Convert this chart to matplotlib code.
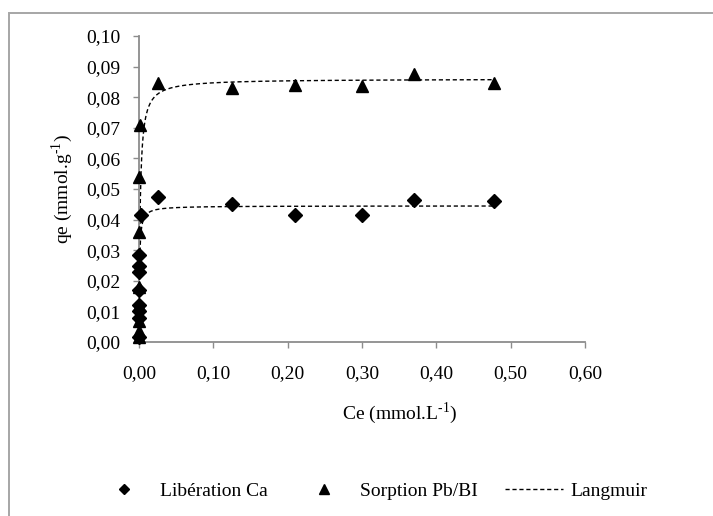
import numpy as np
import matplotlib
matplotlib.use("Agg")
from matplotlib import pyplot as plt
from matplotlib.patches import Rectangle

plt.rcParams['font.family'] = ['Liberation Serif', 'DejaVu Serif']
plt.rcParams['mathtext.fontset'] = 'custom'
plt.rcParams['mathtext.rm'] = 'Liberation Serif'

# Libération Ca (diamonds)
ca_ce = [0.0, 0.0, 0.0, 0.0, 0.0, 0.0, 0.0, 0.0, 0.003,
         0.025, 0.125, 0.21, 0.30, 0.37, 0.478]
ca_qe = [0.0015, 0.008, 0.010, 0.012, 0.017, 0.023, 0.025, 0.0285, 0.0415,
         0.0475, 0.045, 0.0415, 0.0415, 0.0465, 0.046]

# Sorption Pb/BI (triangles)
pb_ce = [0.0, 0.0, 0.0, 0.0, 0.0, 0.0, 0.0, 0.002,
         0.025, 0.125, 0.21, 0.30, 0.37, 0.478]
pb_qe = [0.0015, 0.0035, 0.007, 0.012, 0.018, 0.036, 0.054, 0.071,
         0.0845, 0.083, 0.084, 0.0835, 0.0875, 0.0845]

# Langmuir fit parameters (qmax, K)
ca_qmax, ca_k = 0.0445, 1500.0
pb_qmax, pb_k = 0.0860, 650.0

x_ticks = [0.0, 0.1, 0.2, 0.3, 0.4, 0.5, 0.6]
y_ticks = [0.00, 0.01, 0.02, 0.03, 0.04, 0.05, 0.06, 0.07, 0.08, 0.09, 0.10]


def langmuir(c, qmax, k):
    return qmax * k * c / (1 + k * c)


W, H = 713, 516
fig = plt.figure(figsize=(W / 100, H / 100), dpi=100)
fig.patches.append(Rectangle((9 / W, -0.05), 1.1, (H - 13) / H + 0.05,
                             transform=fig.transFigure, fill=False,
                             edgecolor='#a6a6a6', linewidth=1.4))

ax = fig.add_axes([139 / W, (H - 342) / H, 446 / W, 306 / H])

c = np.concatenate([np.linspace(0, 0.01, 200), np.linspace(0.01, 0.478, 300)])
ax.plot(c, langmuir(c, ca_qmax, ca_k), color='black', linestyle=(0, (3, 2)),
        linewidth=1.0, label='Langmuir', zorder=2)
ax.plot(c, langmuir(c, pb_qmax, pb_k), color='black', linestyle=(0, (3, 2)),
        linewidth=1.0, zorder=2)

ax.plot(ca_ce, ca_qe, linestyle='none', marker='D', markersize=7,
        color='black', label='Libération Ca', zorder=3, clip_on=False)
ax.plot(pb_ce, pb_qe, linestyle='none', marker='^', markersize=9,
        color='black', label='Sorption Pb/BI', zorder=3, clip_on=False)

ax.set_xlim(0, 0.6)
ax.set_ylim(0, 0.1)
ax.set_xticks(x_ticks)
ax.set_yticks(y_ticks)
ax.set_xticklabels([f"{v:.2f}".replace('.', ',') for v in x_ticks])
ax.set_yticklabels([f"{v:.2f}".replace('.', ',') for v in y_ticks])

for s in ['top', 'right']:
    ax.spines[s].set_visible(False)
for s in ['left', 'bottom']:
    ax.spines[s].set_color('#8c8c8c')
    ax.spines[s].set_linewidth(1.3)
ax.tick_params(axis='both', direction='out', length=4.5, width=1.0,
               color='#8c8c8c', labelsize=14)
ax.tick_params(axis='y', pad=9)
ax.tick_params(axis='x', pad=12)

ax.set_xlabel('Ce (mmol.L$^{\\text{-1}}$)', fontsize=14)
ax.set_ylabel('qe (mmol.g$^{\\text{-1}}$)', fontsize=14)
ax.xaxis.set_label_coords((400 - 139) / 446, -(413 - 342) / 306)
ax.yaxis.set_label_coords(-(139 - 62) / 446, 0.5)
ax.xaxis.label.set_va('center')
ax.yaxis.label.set_va('center')

handles, labels = ax.get_legend_handles_labels()
order = [1, 2, 0]
fig.legend([handles[i] for i in order], [labels[i] for i in order],
           loc='center', bbox_to_anchor=(371 / W, 1 - 491 / H), ncol=3,
           frameon=False, fontsize=14, handlelength=3.0, columnspacing=1.4,
           handletextpad=0.35, markerscale=0.75)

fig.savefig('out.png', dpi=100)
